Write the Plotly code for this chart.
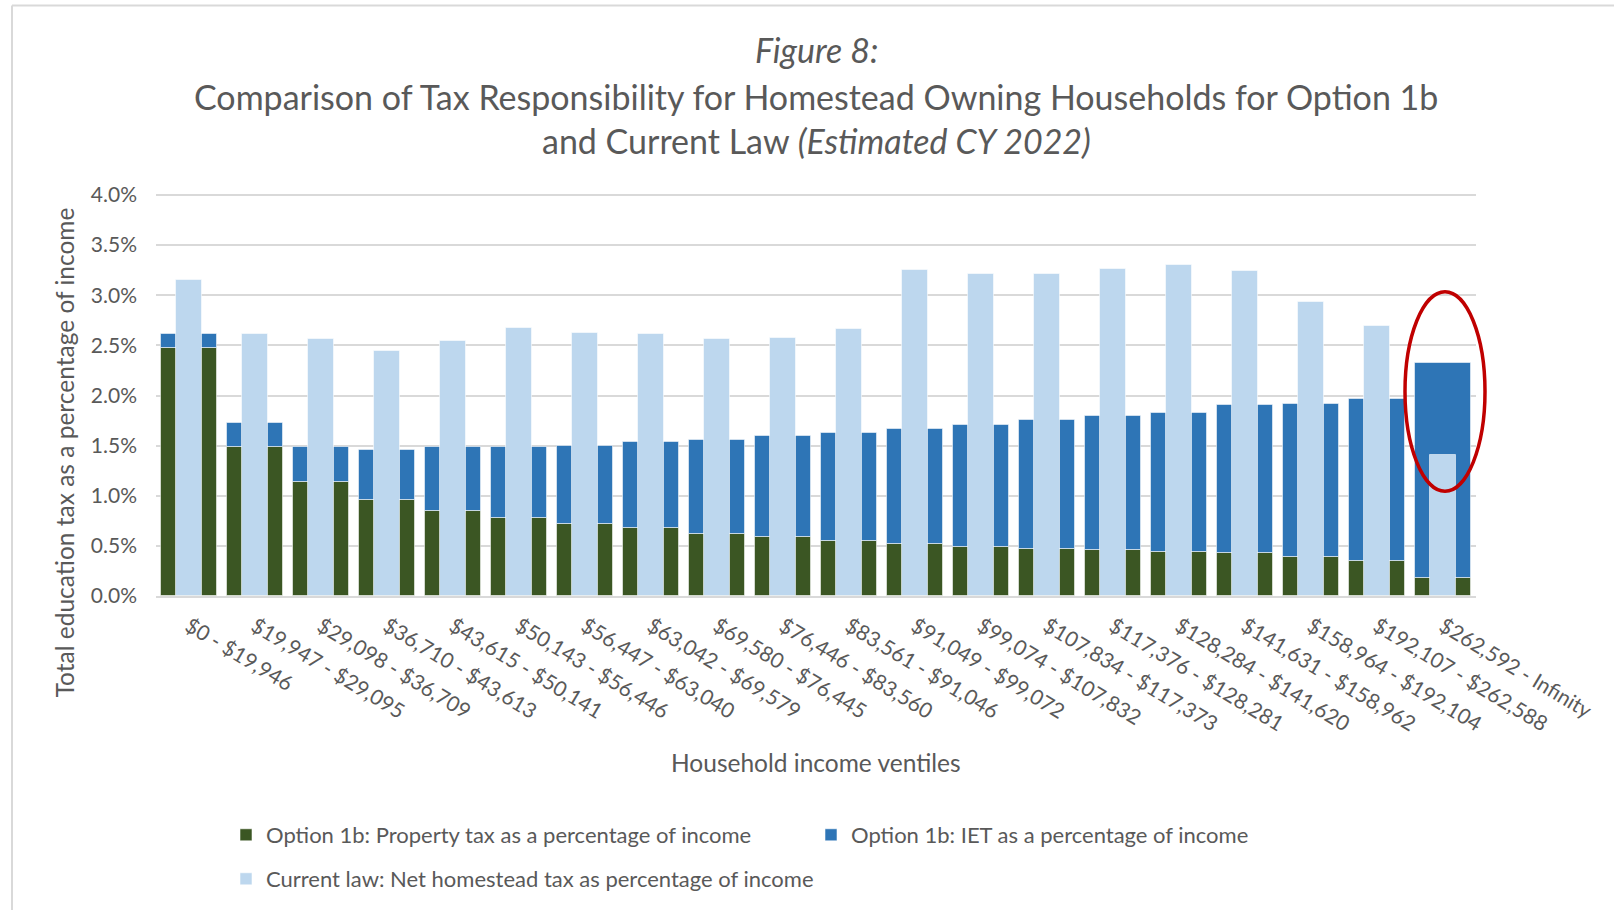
import plotly.graph_objects as go

# Household income ventiles
ventiles = [
    "$0 - $19,946", "$19,947 - $29,095", "$29,098 - $36,709", "$36,710 - $43,613",
    "$43,615 - $50,141", "$50,143 - $56,446", "$56,447 - $63,040", "$63,042 - $69,579",
    "$69,580 - $76,445", "$76,446 - $83,560", "$83,561 - $91,046", "$91,049 - $99,072",
    "$99,074 - $107,832", "$107,834 - $117,373", "$117,376 - $128,281", "$128,284 - $141,620",
    "$141,631 - $158,962", "$158,964 - $192,104", "$192,107 - $262,588", "$262,592 - Infinity",
]

# Option 1b: property tax as % of income
property_tax = [2.47, 1.49, 1.14, 0.96, 0.85, 0.78, 0.72, 0.68, 0.62, 0.59,
                0.55, 0.52, 0.49, 0.47, 0.46, 0.44, 0.43, 0.39, 0.35, 0.18]
# Option 1b: income-based education tax (IET) as % of income
iet = [0.14, 0.24, 0.35, 0.50, 0.64, 0.71, 0.78, 0.86, 0.94, 1.01,
       1.08, 1.15, 1.22, 1.29, 1.34, 1.39, 1.48, 1.53, 1.62, 2.14]
# Current law: net homestead tax as % of income
current_law = [3.15, 2.61, 2.56, 2.44, 2.54, 2.67, 2.62, 2.61, 2.56, 2.57,
               2.66, 3.25, 3.21, 3.21, 3.26, 3.30, 3.24, 2.93, 2.69, 1.41]

y_tick_vals = [0, 0.5, 1.0, 1.5, 2.0, 2.5, 3.0, 3.5, 4.0]
y_tick_text = ["0.0%", "0.5%", "1.0%", "1.5%", "2.0%", "2.5%", "3.0%", "3.5%", "4.0%"]

FONT = "Lato"
TXT = "#595959"
GREEN = "#3B5623"
BLUE = "#2E75B6"
LIGHT = "#BDD7EE"
EDGE = dict(color="rgba(255,255,255,0.55)", width=1)

fig = go.Figure()
fig.add_trace(go.Bar(
    x=ventiles, y=property_tax, base=0, width=0.835,
    name="Option 1b: Property tax as a percentage of income",
    marker=dict(color=GREEN, line=EDGE), legend="legend",
))
fig.add_trace(go.Bar(
    x=ventiles, y=iet, base=property_tax, width=0.835,
    name="Option 1b: IET as a percentage of income",
    marker=dict(color=BLUE, line=EDGE), legend="legend",
))
fig.add_trace(go.Bar(
    x=ventiles, y=current_law, base=0, width=0.395,
    name="Current law: Net homestead tax as percentage of income",
    marker=dict(color=LIGHT, line=EDGE), legend="legend2",
))

# y range slightly above 4.0 so the top gridline is drawn
Y_MAX = 4.03

# plot area geometry in pixels (for paper-coordinate placement)
L, R, B = 156, 1476, 597
Y4 = 195  # pixel row of the 4.0% gridline
T = B - (B - Y4) * Y_MAX / 4.0
W, H = R - L, B - T


def px(xp):
    return (xp - L) / W


def py(yp):
    return (B - yp) / H


annotations = [
    dict(text="<i>Figure 8:</i>", x=px(816), y=py(49), font=dict(size=34)),
    dict(text="Comparison of Tax Responsibility for Homestead Owning Households for Option 1b",
         x=px(816), y=py(96), font=dict(size=34)),
    dict(text="and Current Law <i>(Estimated CY 2022)</i>", x=px(816), y=py(140), font=dict(size=34)),
    dict(text="Total education tax as a percentage of income", x=px(64), y=py(453),
         textangle=-90, font=dict(size=24.5)),
    dict(text="Household income ventiles", x=px(816), y=py(764), font=dict(size=24.5)),
]
for a in annotations:
    a.update(xref="paper", yref="paper", showarrow=False, xanchor="center", yanchor="middle")
    a["font"].update(family=FONT, color=TXT)

shapes = [
    # outer chart border
    dict(type="line", xref="paper", yref="paper", x0=px(12), x1=px(1700), y0=py(5), y1=py(5),
         line=dict(color="#D9D9D9", width=2)),
    dict(type="line", xref="paper", yref="paper", x0=px(12), x1=px(12), y0=py(5), y1=py(1000),
         line=dict(color="#D9D9D9", width=2)),
    # highlight around the top ventile
    dict(type="circle", xref="paper", yref="paper", x0=px(1405), x1=px(1485),
         y0=py(492), y1=py(292), line=dict(color="#C00000", width=3.5), layer="above"),
]

fig.update_layout(
    width=1614, height=910,
    margin=dict(l=L, r=1614 - R, t=T, b=910 - B),
    paper_bgcolor="white", plot_bgcolor="white",
    barmode="overlay", bargap=0,
    font=dict(family=FONT, color=TXT, size=20),
    showlegend=True,
    legend=dict(orientation="h", x=px(226), xanchor="left", y=py(835), yanchor="middle",
                entrywidth=540, font=dict(size=22, color=TXT), bgcolor="rgba(0,0,0,0)"),
    legend2=dict(orientation="h", x=px(226), xanchor="left", y=py(879), yanchor="middle",
                 font=dict(size=22, color=TXT), bgcolor="rgba(0,0,0,0)"),
    annotations=annotations,
    shapes=shapes,
)
fig.update_xaxes(
    type="category", tickangle=31, tickfont=dict(size=21, color=TXT),
    showline=True, linecolor="#D9D9D9", linewidth=2, ticks="", showgrid=False,
    ticklabelstandoff=8, range=[-0.5, 19.5],
)
fig.update_yaxes(
    range=[0, Y_MAX], tickvals=y_tick_vals, ticktext=y_tick_text,
    tickfont=dict(size=21, color=TXT), showgrid=True, gridcolor="#D9D9D9", gridwidth=1.5,
    zeroline=False, showline=False, ticks="", ticklabelstandoff=18,
)

fig.write_html("out.html")
